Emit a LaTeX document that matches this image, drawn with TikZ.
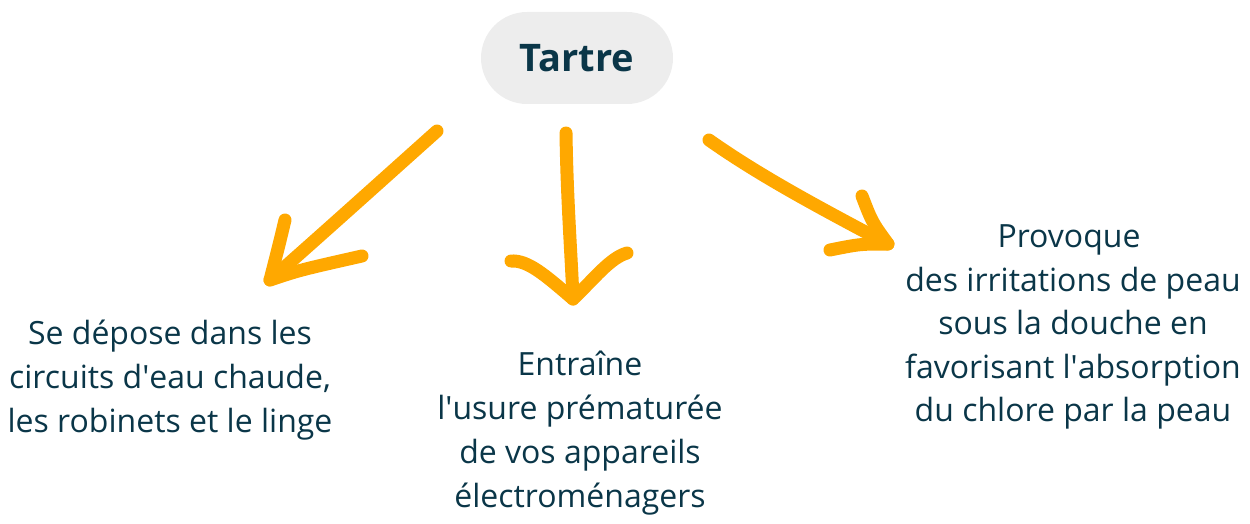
\documentclass[tikz,border=0pt]{standalone}
\usepackage{fontspec}
\setmainfont{Open Sans}
\definecolor{ink}{RGB}{10,54,72}
\definecolor{arr}{RGB}{255,168,0}
\definecolor{pill}{RGB}{237,237,237}
\newcommand{\ap}{\textquotesingle}
\tikzset{
  hand/.style={draw=arr, line width=13pt, line cap=round, line join=round},
  body/.style={text=ink, align=center, inner sep=0pt, font=\fontsize{32}{44}\selectfont},
  title/.style={fill=pill, rounded corners=46pt, minimum width=192pt, minimum height=92pt, text=ink, font=\fontsize{38}{44}\selectfont\bfseries}
}
\begin{document}
\begin{tikzpicture}[x=1pt,y=-1pt]
\useasboundingbox (0,0) rectangle (1250,524);
\node[title] (t) at (577,58) {Tartre};
\node[body] (a) at (170,380) {Se dépose dans les\\circuits d\ap eau chaude,\\les robinets et le linge};
\node[body] (b) at (580,433) {Entraîne\\l\ap usure prématurée\\de vos appareils\\électroménagers};
\node[body, font=\fontsize{32}{43.5}\selectfont] (c) at (1073,327) {Provoque\hspace*{8pt}\\des irritations de peau\\sous la douche en\\favorisant l\ap absorption\\du chlore par la peau};
% arrow coordinates
\coordinate (a1) at (437,131);
\coordinate (a2) at (270,280);
\coordinate (b1) at (566,133);
\coordinate (b2) at (573,299);
\coordinate (c1) at (709,140);
\coordinate (c2) at (888,244);
% left arrow
\draw[hand] (a1) .. controls (380,182) and (320,236) .. (a2);
\draw[hand] (285,220) .. controls (279,245) .. (a2) .. controls (300,270) .. (362,256);
% middle arrow
\draw[hand] (b1) .. controls (567,200) and (571,250) .. (b2);
\draw[hand] (511,261) .. controls (528,260) and (545,275) .. (b2) .. controls (595,278) and (610,258) .. (627,253);
% right arrow
\draw[hand] (c1) .. controls (760,176) and (820,208) .. (c2);
\draw[hand] (862,196) .. controls (872,222) .. (c2) .. controls (860,244) .. (830,250);
\end{tikzpicture}
\end{document}
